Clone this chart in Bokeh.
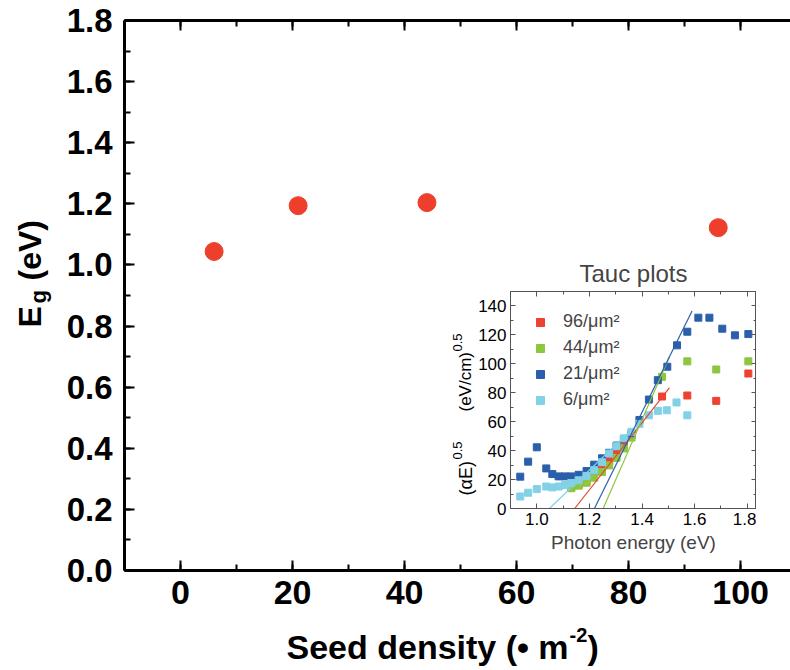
from bokeh.plotting import figure
from bokeh.models import (Range1d, LinearAxis, SingleIntervalTicker, Label, Legend,
                          LegendItem, PrintfTickFormatter)
from bokeh.layouts import column
from bokeh.embed import file_html
from bokeh.resources import INLINE
import math

# ---------------- data ----------------
seed_density = [6, 21, 44, 96]
band_gap = [1.044, 1.194, 1.204, 1.122]

tauc_labels = ["96/\u03bcm\u00b2", "44/\u03bcm\u00b2", "21/\u03bcm\u00b2", "6/\u03bcm\u00b2"]
tauc_colors = ["#EE4231", "#8DC63F", "#2B5FAC", "#82D1E6"]

e_96 = [1.131, 1.159, 1.189, 1.218, 1.248, 1.275, 1.303, 1.331, 1.360, 1.476, 1.572, 1.682, 1.804]
t_96 = [14.6, 16.5, 19.0, 23.0, 28.5, 33.0, 38.0, 44.0, 50.5, 77.4, 78.1, 74.4, 93.3]

e_44 = [1.131, 1.159, 1.189, 1.218, 1.248, 1.275, 1.303, 1.331, 1.360, 1.476, 1.572, 1.682, 1.804]
t_44 = [14.0, 15.8, 17.8, 21.3, 25.2, 29.8, 35.0, 41.5, 49.0, 91.0, 101.7, 96.1, 101.7]

e_21 = [0.937, 0.967, 1.000, 1.036, 1.059, 1.083, 1.107, 1.131, 1.159, 1.189, 1.218, 1.248, 1.275,
        1.303, 1.331, 1.360, 1.390, 1.426, 1.460, 1.496, 1.533, 1.572, 1.614, 1.656, 1.705, 1.753, 1.804]
t_21 = [22.0, 32.4, 42.3, 27.7, 23.8, 22.2, 22.2, 22.2, 23.3, 25.9, 30.3, 34.7, 38.5,
        43.5, 48.0, 52.0, 61.2, 75.3, 88.7, 98.0, 112.8, 122.2, 131.9, 131.9, 124.3, 119.7, 120.6]

e_6 = [0.937, 0.967, 1.000, 1.036, 1.059, 1.083, 1.107, 1.131, 1.159, 1.189, 1.218, 1.248, 1.275,
       1.303, 1.331, 1.360, 1.390, 1.426, 1.460, 1.494, 1.531, 1.572]
t_6 = [8.3, 10.9, 13.4, 15.2, 14.6, 15.2, 16.2, 17.6, 19.5, 22.5, 26.5, 32.0, 38.0,
       43.0, 48.5, 53.0, 58.5, 64.4, 67.5, 67.9, 73.3, 64.4]

fit_e_start = [1.144, 1.252, 1.219, 1.048]
fit_e_end = [1.504, 1.504, 1.590, 1.360]
fit_t_end = [83.4, 104.7, 136.5, 54.5]

FONT = "Liberation Sans"

# ---------------- main figure ----------------
p = figure(width=790, height=670, output_backend="svg", toolbar_location=None,
           x_range=Range1d(-10, 108.9), y_range=Range1d(0, 1.8),
           min_border_left=124, min_border_right=0, min_border_top=20, min_border_bottom=100)
p.outline_line_color = None
p.xgrid.visible = False
p.ygrid.visible = False
p.background_fill_color = "white"
p.border_fill_color = "white"


def style_axis(ax, size, bold=True, lw=3, tin=10, min_in=6, standoff=12):
    ax.axis_line_width = lw
    ax.axis_line_color = "black"
    ax.major_tick_line_width = lw - 1 if lw > 1 else 1
    ax.minor_tick_line_width = lw - 1 if lw > 1 else 1
    ax.major_tick_in = tin
    ax.major_tick_out = 0
    ax.minor_tick_in = min_in
    ax.minor_tick_out = 0
    ax.major_label_text_font = FONT
    ax.major_label_text_font_size = size
    ax.major_label_text_font_style = "bold" if bold else "normal"
    ax.major_label_text_color = "black"
    ax.major_label_standoff = standoff


p.xaxis.ticker = SingleIntervalTicker(interval=20, num_minor_ticks=2)
p.yaxis.ticker = SingleIntervalTicker(interval=0.2, num_minor_ticks=2)
p.yaxis.formatter = PrintfTickFormatter(format="%.1f")
style_axis(p.xaxis[0], "34px", standoff=10)
style_axis(p.yaxis[0], "33px", standoff=12)

top_ax = LinearAxis(ticker=SingleIntervalTicker(interval=20, num_minor_ticks=2))
style_axis(top_ax, "0px", standoff=0)
top_ax.major_label_text_alpha = 0
p.add_layout(top_ax, "above")

p.scatter(seed_density, band_gap, size=18, color="#EE3F2D", marker="circle")

# ---------------- inset figure ----------------
# same side borders as the main figure so the column's frame alignment is harmless
inset = figure(width=370, height=315, output_backend="svg", toolbar_location=None,
               x_range=Range1d(0.9, 1.835), y_range=Range1d(0, 150),
               min_border_left=124, min_border_right=0, min_border_top=41, min_border_bottom=57,
               title="Tauc plots")
inset.styles = {"position": "absolute", "left": "386px", "top": "250px"}
inset.xgrid.visible = False
inset.ygrid.visible = False
inset.border_fill_alpha = 0
inset.background_fill_color = "white"
inset.outline_line_color = "#555555"
inset.outline_line_width = 1
inset.title.text_font = FONT
inset.title.text_font_style = "normal"
inset.title.text_font_size = "24px"
inset.title.align = "center"

inset.xaxis.ticker = SingleIntervalTicker(interval=0.2, num_minor_ticks=2)
inset.yaxis.ticker = SingleIntervalTicker(interval=20, num_minor_ticks=2)
inset.xaxis.formatter = PrintfTickFormatter(format="%.1f")
style_axis(inset.xaxis[0], "17px", bold=False, lw=1, tin=5, min_in=3, standoff=4)
style_axis(inset.yaxis[0], "17px", bold=False, lw=1, tin=5, min_in=3, standoff=4)
for ax in (inset.xaxis[0], inset.yaxis[0]):
    ax.axis_line_color = "#555555"
    ax.major_tick_line_color = "#555555"
    ax.minor_tick_line_color = "#555555"
    ax.axis_label_text_font = FONT
    ax.axis_label_text_font_style = "normal"
    ax.axis_label_text_font_size = "19px"
    ax.axis_label_standoff = 4
inset.xaxis.axis_label = "Photon energy (eV)"

for side, tk in (("above", SingleIntervalTicker(interval=0.2, num_minor_ticks=2)),
                 ("right", SingleIntervalTicker(interval=20, num_minor_ticks=2))):
    ax = LinearAxis(ticker=tk)
    style_axis(ax, "0px", bold=False, lw=1, tin=5, min_in=3, standoff=0)
    ax.axis_line_color = "#555555"
    ax.major_tick_line_color = "#555555"
    ax.minor_tick_line_color = "#555555"
    ax.major_label_text_alpha = 0
    inset.add_layout(ax, side)

series = [(e_96, t_96), (e_44, t_44), (e_21, t_21), (e_6, t_6)]
renderers = {}
for i in range(4):
    ex, ty = series[i]
    r = inset.scatter(ex, ty, marker="square", size=7, fill_color=tauc_colors[i],
                      line_color=tauc_colors[i])
    renderers[i] = r
for i in range(4):
    inset.line([fit_e_start[i], fit_e_end[i]], [0, fit_t_end[i]],
               line_color=tauc_colors[i], line_width=1.2)

legend = Legend(items=[LegendItem(label=tauc_labels[i], renderers=[renderers[i]]) for i in range(4)],
                location=(20, 98), margin=0, padding=0, spacing=5,
                glyph_width=20, glyph_height=20, label_height=20, label_standoff=13,
                label_text_font=FONT, label_text_font_size="18px",
                border_line_color=None, background_fill_alpha=0)
inset.add_layout(legend)

# ---------------- transparent overlay for axis titles with sub/superscripts ----------------
# its frame covers page x 0..666, y 0..670, so page pixels are its data units
lab = figure(width=790, height=670, output_backend="svg", toolbar_location=None,
             x_range=Range1d(0, 666), y_range=Range1d(670, 0),
             x_axis_type=None, y_axis_type=None,
             min_border_left=124, min_border_right=0, min_border_top=0, min_border_bottom=0)
lab.styles = {"position": "absolute", "left": "-124px", "top": "0px"}
lab.outline_line_color = None
lab.background_fill_alpha = 0
lab.border_fill_alpha = 0

bold_kw = dict(text_font=FONT, text_font_style="bold", text_color="black",
               text_baseline="middle")
reg_kw = dict(text_font=FONT, text_font_style="normal", text_color="black",
              text_baseline="middle")
up = math.pi / 2

# main y title: E_g (eV)
lab.add_layout(Label(text="E", x=29, y=327, angle=up, text_font_size="32px", **bold_kw))
lab.add_layout(Label(text="g", x=38, y=303, angle=up, text_font_size="22px", **bold_kw))
lab.add_layout(Label(text="(eV)", x=29, y=280, angle=up, text_font_size="32px", **bold_kw))

# main x title: Seed density (• m^-2)
lab.add_layout(Label(text="Seed density (\u2022 m", x=286, y=646, text_font_size="34px", **bold_kw))
lab.add_layout(Label(text="-2", x=569, y=634, text_font_size="20px", **bold_kw))
lab.add_layout(Label(text=")", x=587, y=646, text_font_size="34px", **bold_kw))

# inset y title: (αE)^0.5 (eV/cm)^0.5
lab.add_layout(Label(text="(\u03b1E)", x=465, y=495, angle=up, text_font_size="18px", **reg_kw))
lab.add_layout(Label(text="0.5", x=457, y=459, angle=up, text_font_size="13px", **reg_kw))
lab.add_layout(Label(text="(eV/cm)", x=465, y=411, angle=up, text_font_size="17px", **reg_kw))
lab.add_layout(Label(text="0.5", x=457, y=351, angle=up, text_font_size="13px", **reg_kw))

layout = column(p, inset, lab)
open("out.html", "w").write(file_html(layout, INLINE))
